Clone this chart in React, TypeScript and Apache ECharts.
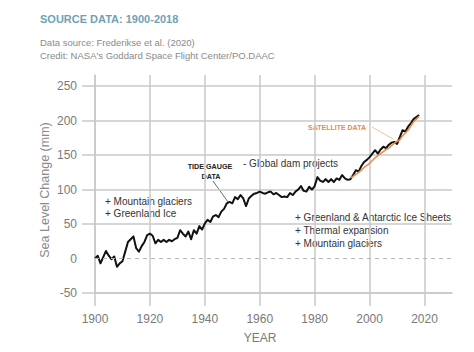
import React, { useEffect, useRef } from 'react';
import * as echarts from 'echarts';

const tideStartYear = 1900;
const tideGaugeMm = [
  0, 4, -7, 2, 11, 4, -1, 3, -12, -7,
  -4, 10, 24, 28, 32, 15, 10, 18, 24, 34,
  36, 33, 22, 27, 24, 27, 24, 27, 25, 28,
  30, 41, 36, 32, 39, 28, 41, 36, 47, 42,
  51, 56, 53, 61, 63, 60, 68, 72, 80, 82,
  80, 89, 86, 92, 87, 76, 87, 91, 94, 95,
  97, 95, 94, 96, 97, 93, 95, 92, 89, 90,
  89, 95, 92, 97, 100, 105, 98, 97, 104, 100,
  105, 118, 113, 111, 115, 111, 115, 111, 116, 114,
  121, 116, 114, 115, 121, 128, 126, 134, 140, 143,
  147, 152, 157, 152, 158, 162, 160, 165, 168, 169,
  166, 176, 186, 184, 191, 196, 202, 205, 208,
];
const satStartYear = 1993;
const satelliteMm = [
  117, 119, 122, 125, 128, 132, 135, 138, 142, 146,
  149, 152, 155, 158, 160, 164, 167, 170, 172, 178,
  182, 186, 192, 198, 202, 206,
];
const xTickYears = [1900, 1920, 1940, 1960, 1980, 2000, 2020];
const yLabelValues = [-50, 0, 50, 100, 150, 200, 250];
const yGridValues = [-50, 50, 100, 150, 200, 250];

const FONT = '"Liberation Sans", Arial, Helvetica, sans-serif';
const GRID_COLOR = '#c9c9c9';

export default function App() {
  const ref = useRef<HTMLDivElement>(null);
  useEffect(() => {
    if (!ref.current) return;
    const chart = echarts.init(ref.current, null, { renderer: 'svg' });
    const tideData = tideGaugeMm.map((v, i) => [tideStartYear + i, v]);
    const satData = satelliteMm.map((v, i) => [satStartYear + i, v]);
    const gridLine = { color: GRID_COLOR, width: 1.5 };
    const txt = (text: string, x: number, y: number, size: number, color: string, extra: any = {}) => ({
      type: 'text',
      x,
      y,
      silent: true,
      style: {
        text,
        fill: color,
        fontSize: size,
        fontFamily: FONT,
        align: 'left',
        verticalAlign: 'middle',
        ...extra,
      },
    });
    chart.setOption({
      animation: false,
      backgroundColor: '#ffffff',
      textStyle: { fontFamily: FONT },
      grid: { left: 95, right: 22, top: 75, bottom: 59 },
      xAxis: {
        type: 'value',
        min: 1900,
        max: 2030,
        axisLine: { show: true, onZero: false, lineStyle: gridLine },
        axisTick: { show: true, length: 13, customValues: xTickYears, lineStyle: gridLine },
        axisLabel: {
          customValues: xTickYears,
          margin: 20,
          color: '#7a7a7a',
          fontSize: 12,
          fontFamily: FONT,
          formatter: (v: number) => String(v),
        },
        splitLine: { show: true, lineStyle: gridLine },
      },
      yAxis: {
        type: 'value',
        min: -50,
        max: 266,
        axisLine: { show: true, onZero: false, lineStyle: gridLine },
        axisTick: { show: true, length: 13, customValues: yGridValues, lineStyle: gridLine },
        axisLabel: {
          customValues: yLabelValues,
          margin: 18,
          color: '#7a7a7a',
          fontSize: 12,
          fontFamily: FONT,
          formatter: (v: number) => String(v),
        },
        splitLine: { show: true, lineStyle: gridLine },
      },
      series: [
        {
          type: 'line',
          data: tideData,
          symbol: 'none',
          lineStyle: { color: '#111111', width: 2, join: 'round' },
          z: 3,
          markLine: {
            silent: true,
            symbol: 'none',
            label: { show: false },
            lineStyle: { color: '#b5b5b5', type: [4, 4], width: 1.2 },
            data: [{ yAxis: 0 }],
          },
        },
        {
          type: 'line',
          data: satData,
          symbol: 'none',
          lineStyle: { color: '#ec8a4b', width: 1.6 },
          z: 4,
        },
      ],
      graphic: [
        txt('SOURCE DATA: 1900-2018', 40, 19, 11, '#6fa2b6', { fontWeight: 'bold' }),
        txt('Data source: Frederikse et al. (2020)', 40, 42, 9.5, '#8a8a8a'),
        txt("Credit: NASA's Goddard Space Flight Center/PO.DAAC", 40, 55, 9.5, '#8a8a8a'),
        { ...txt('Sea Level Change (mm)', 45, 190, 12.5, '#8a8a8a', { align: 'center' }), rotation: Math.PI / 2 },
        txt('YEAR', 260, 338, 12, '#7a7a7a', { align: 'center' }),
        txt('+ Mountain glaciers', 105, 201, 10, '#333333'),
        txt('+ Greenland Ice', 105, 213, 10, '#333333'),
        txt('TIDE GAUGE', 210, 166, 7.2, '#222222', { align: 'center', fontWeight: 'bold' }),
        txt('DATA', 211, 176, 7.2, '#222222', { align: 'center', fontWeight: 'bold' }),
        { type: 'line', silent: true, shape: { x1: 213, y1: 181, x2: 228, y2: 202 }, style: { stroke: '#444444', lineWidth: 0.8 } },
        txt('- Global dam projects', 243, 163, 10, '#333333'),
        txt('SATELLITE DATA', 337, 127, 7, '#ec8a4b', { align: 'center', fontWeight: 'bold' }),
        { type: 'line', silent: true, shape: { x1: 372, y1: 127, x2: 393, y2: 139 }, style: { stroke: '#f0b08a', lineWidth: 0.8 } },
        txt('+ Greenland & Antarctic Ice Sheets', 295, 217, 10, '#333333'),
        txt('+ Thermal expansion', 295, 230, 10, '#333333'),
        txt('+ Mountain glaciers', 295, 243, 10, '#333333'),
      ],
    });
    return () => chart.dispose();
  }, []);
  return (
    <div
      ref={ref}
      style={{ position: 'absolute', left: 0, top: 0, width: 474, height: 352 }}
    />
  );
}
